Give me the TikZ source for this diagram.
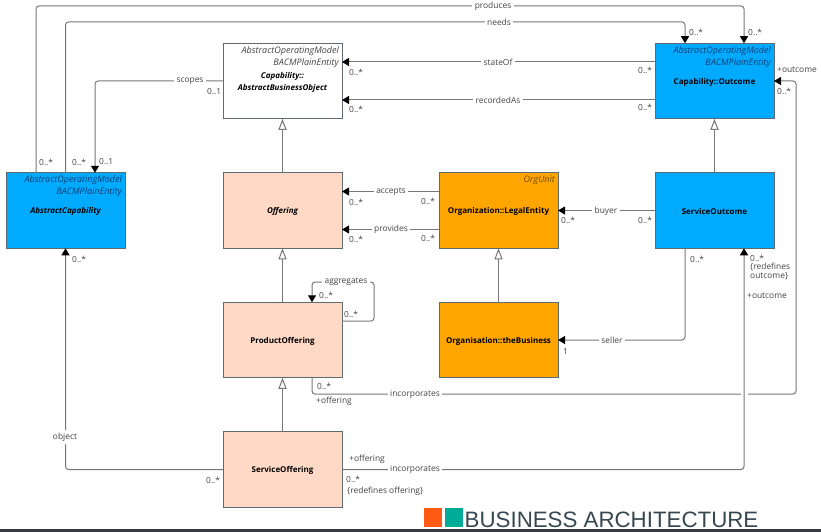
\documentclass[tikz,border=0pt]{standalone}
\usepackage{fontspec}
\setmainfont{Open Sans}
\newfontfamily\logofont{Liberation Sans}
\usetikzlibrary{arrows.meta}
\definecolor{capblue}{HTML}{00AAFF}
\definecolor{offerpeach}{HTML}{FFD8C6}
\definecolor{orgorange}{HTML}{FFA500}
\definecolor{linegray}{HTML}{777777}
\definecolor{edgegray}{HTML}{5F6B73}
\definecolor{labelgray}{HTML}{444444}
\definecolor{tagblue}{HTML}{0B3F73}
\definecolor{logoorange}{HTML}{FF5A14}
\definecolor{logoteal}{HTML}{00AB97}
\definecolor{logotext}{HTML}{37474F}
\definecolor{barcolor}{HTML}{343A46}
\tikzset{
    umlbox/.style={draw=edgegray,line width=1pt,minimum width=119pt,minimum height=75.5pt,inner sep=0pt,outer sep=0pt},
    boxtitle/.style={inner sep=0pt,align=center,font=\fontsize{8pt}{12pt}\selectfont\bfseries},
    assoc/.style={draw=linegray,line width=1pt,rounded corners=3pt},
    assocarrow/.style={assoc,-{Triangle[length=7pt,width=8pt,fill=black,color=black]}},
    general/.style={draw=linegray,line width=1pt,-{Triangle[open,length=11pt,width=8pt,fill=white]}},
    stereotype/.style={anchor=north east,inner sep=0pt,align=right,font=\fontsize{9pt}{12pt}\selectfont\itshape},
    edgelabel/.style={fill=white,inner sep=2.5pt,text=labelgray,font=\fontsize{8.4pt}{9pt}\selectfont},
    endlabel/.style={anchor=west,inner sep=0pt,text=labelgray,align=left,font=\fontsize{8.4pt}{9.5pt}\selectfont},
}
\begin{document}
\begin{tikzpicture}[x=1pt,y=-1pt]
    \pgfmathsetmacro{\portoffset}{29.5}
    \pgfmathsetmacro{\railoffset}{19}
    \useasboundingbox (0,0) rectangle (821,532);
    \fill[white] (0,0) rectangle (821,532);
    % boxes
    \node[umlbox] (abstractobject) at (282.5,81) {};
    \node[umlbox,fill=offerpeach] (offering) at (282.5,210.5) {};
    \node[umlbox,fill=offerpeach] (product) at (282.5,340) {};
    \node[umlbox,fill=offerpeach] (service) at (282.5,469.5) {};
    \node[umlbox,fill=capblue] (capability) at (65.5,210.5) {};
    \node[umlbox,fill=capblue] (outcome) at (714.5,81) {};
    \node[umlbox,fill=capblue] (serviceoutcome) at (714.5,210.5) {};
    \node[umlbox,fill=orgorange] (legal) at (498.5,210.5) {};
    \node[umlbox,fill=orgorange] (business) at (498.5,340) {};
    \foreach \boxname/\boxtext in {
        abstractobject/{\itshape Capability::\\\itshape AbstractBusinessObject},
        offering/{\itshape Offering}, product/ProductOffering, service/ServiceOffering,
        capability/{\itshape AbstractCapability}, outcome/{Capability::Outcome},
        serviceoutcome/ServiceOutcome, legal/{Organization::LegalEntity},
        business/{Organisation::theBusiness}}
        \node[boxtitle] (\boxname title) at ([yshift=-1pt]\boxname.center) {\boxtext};
    \node[stereotype,text=labelgray] (abstractobjecttag) at ([xshift=-3pt,yshift=-3pt]abstractobject.north east) {AbstractOperatingModel\\BACMPlainEntity};
    \node[stereotype,text=tagblue] (capabilitytag) at ([xshift=-3pt,yshift=-3pt]capability.north east) {AbstractOperatingModel\\BACMPlainEntity};
    \node[stereotype,text=tagblue] (outcometag) at ([xshift=-3pt,yshift=-3pt]outcome.north east) {AbstractOperatingModel\\BACMPlainEntity};
    \node[stereotype,text=orgorange!45!black] (legaltag) at ([xshift=-3pt,yshift=-3pt]legal.north east) {OrgUnit};
    % inheritance
    \draw[general] (offering) -- (abstractobject);
    \draw[general] (product) -- (offering);
    \draw[general] (service) -- (product);
    \draw[general] (serviceoutcome) -- (outcome);
    \draw[general] (business) -- (legal);
    % associations
    \coordinate (producesturn) at (744,6);
    \coordinate (needsturn) at (685,22);
    \coordinate (aggregatesturn) at (374,282);
    \coordinate (incorporatesturn) at (796,394);
    \coordinate (incorporatesjump) at (744,394);
    \draw[assocarrow] ([xshift=-\portoffset pt]capability.north) |- (producesturn) -- ([xshift=\portoffset pt]outcome.north);
    \draw[assocarrow] (capability.north) |- (needsturn) -- ([xshift=-\portoffset pt]outcome.north);
    \draw[assocarrow] (abstractobject.west) -| ([xshift=\portoffset pt]capability.north);
    \draw[assocarrow] ([yshift=\railoffset pt]outcome.west) -- ([yshift=\railoffset pt]abstractobject.east);
    \draw[assocarrow] ([yshift=-\railoffset pt]outcome.west) -- ([yshift=-\railoffset pt]abstractobject.east);
    \draw[assocarrow] ([yshift=\railoffset pt]legal.west) -- ([yshift=\railoffset pt]offering.east);
    \draw[assocarrow] ([yshift=-\railoffset pt]legal.west) -- ([yshift=-\railoffset pt]offering.east);
    \draw[assocarrow] (serviceoutcome.west) -- (legal.east);
    \draw[assocarrow] ([xshift=-\portoffset pt]serviceoutcome.south) |- (business.east);
    \draw[assocarrow] ([yshift=\railoffset pt]product.east) -| (aggregatesturn) -| ([xshift=\portoffset pt]product.north);
    \draw[assocarrow] ([xshift=\portoffset pt]product.south) |- (incorporatesturn) |- (outcome.east);
    \draw[white,line width=3pt] ([xshift=-3.5pt]incorporatesjump) -- ([xshift=3.5pt]incorporatesjump);
    \draw[assocarrow] (service.east) -| ([xshift=\portoffset pt]serviceoutcome.south);
    \draw[assocarrow] (service.west) -| (capability.south);
    % labels on the lines
    \foreach \labelname/\labelx/\labely/\labeltext in {
        produceslabel/493/6/produces, needslabel/499/22/needs, scopeslabel/190/81/scopes,
        stateoflabel/498/62/stateOf, recordedlabel/498/100/recordedAs,
        acceptslabel/391/192/accepts, provideslabel/391/229/provides,
        buyerlabel/606/211/buyer, sellerlabel/612/340/seller,
        aggregateslabel/346/282/aggregates, incorporateslabel/415/394/incorporates,
        incorporatestwolabel/415/469.5/incorporates, objectlabel/65/437/object}
        \node[edgelabel] (\labelname) at (\labelx,\labely) {\labeltext};
    % labels at the line ends
    \foreach \labelname/\labelx/\labely/\labeltext in {
        capa/39/162/0..*, capb/72/162/0..*, capc/99/162/0..1, capd/72/259/0..*,
        abstracta/207/92/0..1, abstractb/349/72/0..*, abstractc/349/109/0..*,
        outa/638/70/0..*, outb/638/107/0..*, outc/689/32/0..*, outd/748/32/0..*,
        oute/777/70/+outcome, outf/777/91/0..*,
        offera/349/202/0..*, offerb/349/239/0..*,
        legala/421/201/0..*, legalb/421/238/0..*, legalc/561/220/0..*,
        servicea/638/220/0..*, serviceb/690/259/0..*, servicec/750/258/0..*, serviced/747/296/+outcome,
        proda/319/295/0..*, prodb/344/314/0..*, prodc/317/386/0..*, prodd/316/401/+offering,
        offa/349/459/+offering, offb/346/479/0..*, offc/206/480/0..*,
        sellerend/563/351/1}
        \node[endlabel] (\labelname) at (\labelx,\labely) {\labeltext};
    \node[endlabel] (redefinesoutcome) at (750,271.5) {\{redefines\\outcome\}};
    \node[endlabel] (redefinesoffering) at (347,491) {\{redefines offering\}};
    % logo and bottom bar
    \node[fill=logoorange,minimum width=18pt,minimum height=19pt,inner sep=0pt] (logoleft) at (433,517.5) {};
    \node[fill=logoteal,minimum width=18pt,minimum height=19pt,inner sep=0pt] (logoright) at (453.5,517.5) {};
    \node[anchor=base west,inner sep=0pt,text=logotext,font=\logofont\fontsize{22.3pt}{24pt}\selectfont] (logotitle) at (464.5,527) {BUSINESS ARCHITECTURE};
    \fill[barcolor] (0,529) rectangle (821,532);
\end{tikzpicture}
\end{document}
